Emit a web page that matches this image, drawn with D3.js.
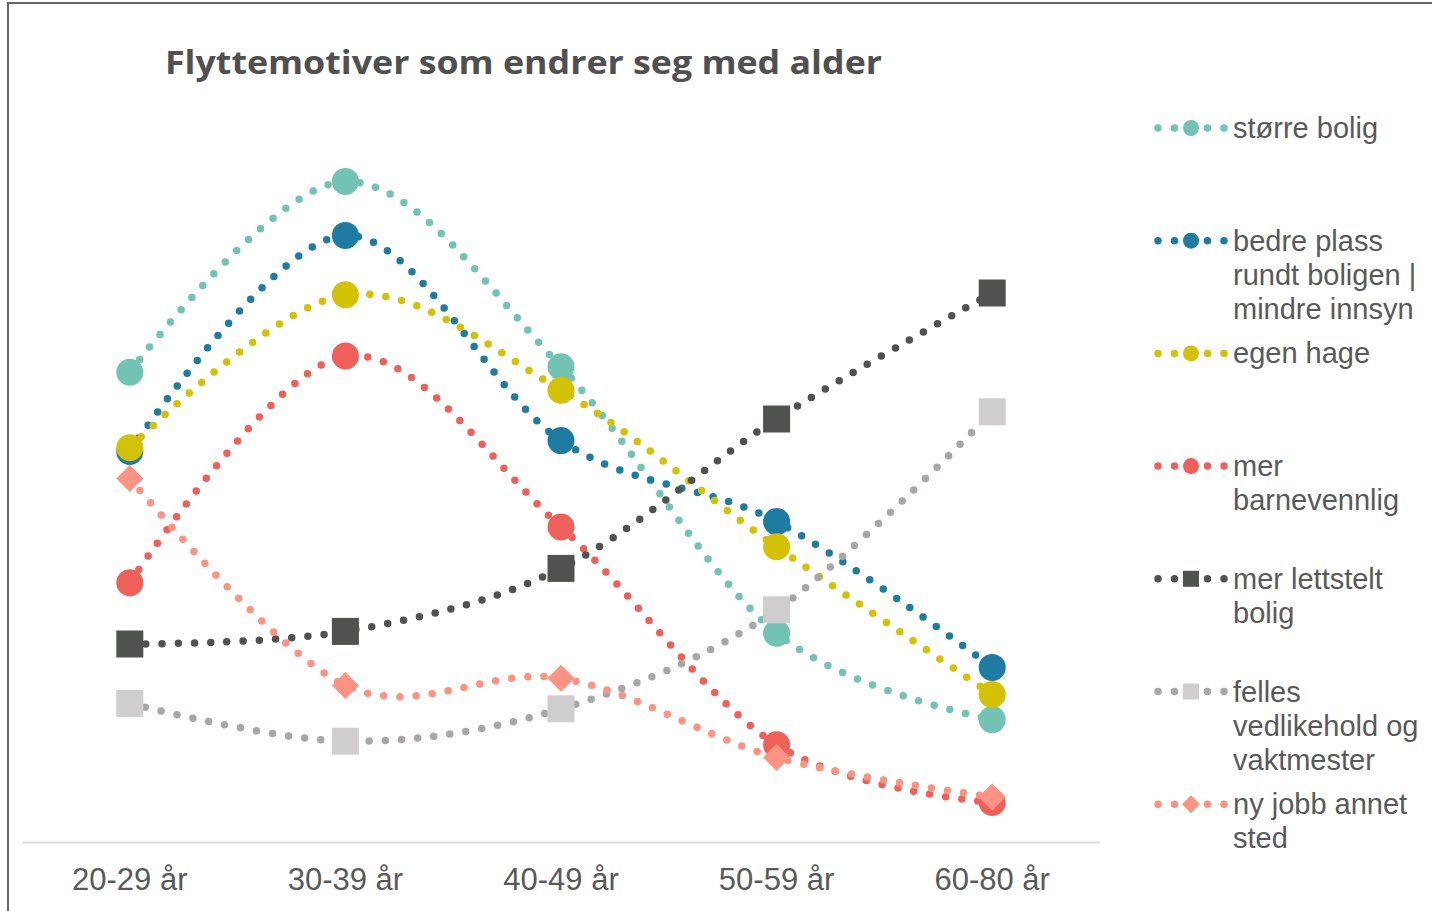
<!DOCTYPE html>
<html>
<head>
<meta charset="utf-8">
<script src="https://cdn.jsdelivr.net/npm/d3@7"></script>
<style>
  html, body { margin: 0; padding: 0; background: #fff; }
  svg { display: block; }
</style>
</head>
<body>
<svg id="chart" width="1432" height="911"></svg>
<script>
// Age groups on the x axis
const ageGroups = ["20-29 år", "30-39 år", "40-49 år", "50-59 år", "60-80 år"];

// Share of respondents naming each moving motive, per age group
const storreBolig      = [26.1, 36.7, 26.4, 11.6, 6.8];
const bedrePlass       = [21.7, 33.7, 22.3, 17.8, 9.7];
const egenHage         = [21.9, 30.4, 25.1, 16.4, 8.2];
const merBarnevennlig  = [14.4, 27.0, 17.5, 5.4, 2.2];
const merLettstelt     = [11.0, 11.7, 15.2, 23.5, 30.5];
const fellesVedlikehold = [7.7, 5.6, 7.4, 12.9, 23.9];
const nyJobb           = [20.2, 8.7, 9.1, 4.7, 2.5];

const seriesNames = [
  "større bolig",
  "bedre plass rundt boligen | mindre innsyn",
  "egen hage",
  "mer barnevennlig",
  "mer lettstelt bolig",
  "felles vedlikehold og vaktmester",
  "ny jobb annet sted"
];

const titleText = "Flyttemotiver som endrer seg med alder";

// Visual style per series (line colour, marker colour, marker shape)
const styles = [
  { line: "#72c3b3", fill: "#72c3b3", shape: "circle" },
  { line: "#1e7ba1", fill: "#1e7ba1", shape: "circle" },
  { line: "#d3c105", fill: "#d3c105", shape: "circle" },
  { line: "#f0605a", fill: "#f0605a", shape: "circle" },
  { line: "#50524f", fill: "#50524f", shape: "square" },
  { line: "#aaa5a7", fill: "#d0cdcf", shape: "square" },
  { line: "#fd9383", fill: "#fd9383", shape: "diamond" }
];

const seriesValues = [storreBolig, bedrePlass, egenHage, merBarnevennlig,
                      merLettstelt, fellesVedlikehold, nyJobb];
const series = seriesNames.map((name, i) => ({ name, values: seriesValues[i], style: styles[i] }));

const svg = d3.select("#chart");
const textColor = "#595959";

// Outer chart frame
svg.append("rect")
  .attr("x", 8).attr("y", 3)
  .attr("width", 1440).attr("height", 930)
  .attr("fill", "none")
  .attr("stroke", "#646464")
  .attr("stroke-width", 2);

// Title
svg.append("text")
  .attr("x", 165).attr("y", 74)
  .attr("font-family", "'Open Sans', sans-serif")
  .attr("font-weight", 700)
  .attr("font-size", 32)
  .attr("fill", "#505050")
  .attr("textLength", 717)
  .attr("lengthAdjust", "spacingAndGlyphs")
  .text(titleText);

// Scales
const x = d3.scaleBand().domain(ageGroups).range([22, 1100]);
const y = d3.scaleLinear().domain([0, 40]).range([842, 122]);
const cx = d => x(d) + x.bandwidth() / 2;

// Category axis: baseline plus labels, no ticks
const xAxis = d3.axisBottom(x).tickSize(0).tickPadding(0);
const gx = svg.append("g").attr("transform", "translate(0,842)").call(xAxis);
gx.select(".domain").attr("stroke", "#d9d9d9").attr("stroke-width", 2);
gx.selectAll(".tick text")
  .attr("y", 48)
  .attr("dy", 0)
  .attr("font-family", "'Liberation Sans', Arial, sans-serif")
  .attr("font-size", 31)
  .attr("fill", textColor);

// Marker drawing helper
function drawMarker(g, shape, size, color) {
  if (shape === "circle") {
    g.append("circle").attr("r", size / 2).attr("fill", color);
  } else if (shape === "square") {
    g.append("rect").attr("x", -size / 2).attr("y", -size / 2)
      .attr("width", size).attr("height", size).attr("fill", color);
  } else {
    const h = size / 2;
    g.append("path").attr("d", `M0,${-h}L${h},0L0,${h}L${-h},0Z`).attr("fill", color);
  }
}

// Smoothed dotted lines and markers, series by series
const line = d3.line()
  .x((d, i) => cx(ageGroups[i]))
  .y(d => y(d))
  .curve(d3.curveCardinal.tension(0));

const plot = svg.append("g");
series.forEach(s => {
  const g = plot.append("g");
  g.append("path")
    .attr("d", line(s.values))
    .attr("fill", "none")
    .attr("stroke", s.style.line)
    .attr("stroke-width", 7.5)
    .attr("stroke-linecap", "round")
    .attr("stroke-dasharray", "0 16.2");
  s.values.forEach((v, i) => {
    const m = g.append("g").attr("transform", `translate(${cx(ageGroups[i])},${y(v)})`);
    drawMarker(m, s.style.shape, 27, s.style.fill);
  });
});

// Legend
const legend = svg.append("g");
const legendTextX = 1233;
const legendMaxWidth = 205;
series.forEach((s, i) => {
  const cy = 128 + i * 112.7;
  const g = legend.append("g");
  g.append("line")
    .attr("x1", 1158).attr("x2", 1225)
    .attr("y1", cy).attr("y2", cy)
    .attr("stroke", s.style.line)
    .attr("stroke-width", 7.5)
    .attr("stroke-linecap", "round")
    .attr("stroke-dasharray", "0 16.5");
  const m = g.append("g").attr("transform", `translate(1191,${cy})`);
  drawMarker(m, s.style.shape, s.style.shape === "diamond" ? 18 : 16, s.style.fill);

  // Word-wrap the series name into lines
  const text = g.append("text")
    .attr("font-family", "'Liberation Sans', Arial, sans-serif")
    .attr("font-size", 29)
    .attr("fill", textColor);
  const words = s.name.split(" ");
  const lines = [];
  let current = "";
  const probe = text.append("tspan");
  words.forEach(w => {
    const trial = current ? current + " " + w : w;
    probe.text(trial);
    if (current && probe.node().getComputedTextLength() > legendMaxWidth) {
      lines.push(current);
      current = w;
    } else {
      current = trial;
    }
  });
  lines.push(current);
  probe.remove();
  lines.forEach((ln, k) => {
    text.append("tspan")
      .attr("x", legendTextX)
      .attr("y", cy + 10 + k * 34)
      .text(ln);
  });
});
</script>
</body>
</html>
